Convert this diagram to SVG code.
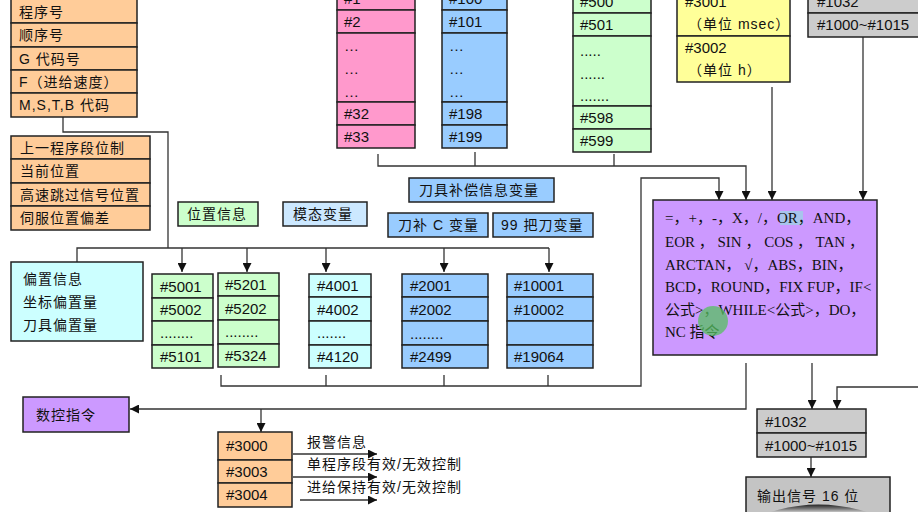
<svg xmlns="http://www.w3.org/2000/svg" width="918" height="512" viewBox="0 0 918 512">
<defs>
<style>
.b{stroke:#222;stroke-width:1.5}
.or{fill:#FFCC99}.pk{fill:#FF99CC}.bl{fill:#99CCFF}.gn{fill:#CCFFCC}.cy{fill:#CCFFFF}.ye{fill:#FFFF99}.pu{fill:#CC99FF}.gy{fill:#CCCCCC}.lb{fill:#CCE8FF}
.t{font-family:"Liberation Sans","Noto Sans CJK SC",sans-serif;font-size:15px;fill:#111}
.c{font-family:"Liberation Sans","Noto Sans CJK SC",sans-serif;font-size:14px;fill:#111;letter-spacing:1px}
.s{font-family:"Liberation Serif","Noto Sans CJK SC",serif;font-size:15px;fill:#111}
.ln{stroke:#333;stroke-width:1.3;fill:none}
</style>
<marker id="ah" viewBox="0 0 10 10" refX="10" refY="5" markerWidth="9" markerHeight="9" markerUnits="userSpaceOnUse" orient="auto"><path d="M0,0 L10,5 L0,10 Z" fill="#111"/></marker>
<linearGradient id="dish" x1="0" y1="0" x2="0" y2="1"><stop offset="0" stop-color="#222"/><stop offset="0.5" stop-color="#777"/><stop offset="1" stop-color="#ddd"/></linearGradient>
</defs>

<g id="connectors">
<path class="ln" d="M63,117 V132 H168 V248"/>
<path class="ln" d="M77,262 V248 H549"/>
<path class="ln" d="M182,248 V272" marker-end="url(#ah)"/>
<path class="ln" d="M247,248 V272" marker-end="url(#ah)"/>
<path class="ln" d="M326,248 V272" marker-end="url(#ah)"/>
<path class="ln" d="M444,248 V272" marker-end="url(#ah)"/>
<path class="ln" d="M549,248 V272" marker-end="url(#ah)"/>
<path class="ln" d="M221,375 V386 H641 V178 H719 V200" marker-end="url(#ah)"/>
<path class="ln" d="M326,375 V386 M444,375 V386 M548,375 V386"/>
<path class="ln" d="M378,154 V166 H746 V200" marker-end="url(#ah)"/>
<path class="ln" d="M475,152 V166 M614,154 V166"/>
<path class="ln" d="M772,87 V200" marker-end="url(#ah)"/>
<path class="ln" d="M863,37 V200" marker-end="url(#ah)"/>
<path class="ln" d="M746,363 V409 H130" marker-end="url(#ah)"/>
<path class="ln" d="M261,409 V432" marker-end="url(#ah)"/>
<path class="ln" d="M812,363 V409" marker-end="url(#ah)"/>
<path class="ln" d="M918,387 H837 V409" marker-end="url(#ah)"/>
<path class="ln" d="M811,457 V477" marker-end="url(#ah)"/>
<path class="ln" d="M293,454 H377" marker-end="url(#ah)"/>
<path class="ln" d="M293,477 H377" marker-end="url(#ah)"/>
<path class="ln" d="M300,500 H377" marker-end="url(#ah)"/>
</g>

<g id="program-info">
<rect class="or b" x="11" y="-1" width="126" height="24"/>
<rect class="or b" x="11" y="23" width="126" height="24"/>
<rect class="or b" x="11" y="47" width="126" height="23"/>
<rect class="or b" x="11" y="70" width="126" height="23"/>
<rect class="or b" x="11" y="93" width="126" height="24"/>
<text class="c" x="19" y="17">程序号</text>
<text class="c" x="19" y="40">顺序号</text>
<text class="c" x="19" y="64">G 代码号</text>
<text class="c" x="19" y="87">F（进给速度）</text>
<text class="c" x="19" y="110" letter-spacing="0">M,S,T,B 代码</text>
</g>

<g id="position-list">
<rect class="or b" x="11" y="136" width="139" height="23"/>
<rect class="or b" x="11" y="159" width="139" height="24"/>
<rect class="or b" x="11" y="183" width="139" height="23"/>
<rect class="or b" x="11" y="206" width="139" height="24"/>
<text class="c" x="20" y="153">上一程序段位制</text>
<text class="c" x="20" y="176">当前位置</text>
<text class="c" x="20" y="200">高速跳过信号位置</text>
<text class="c" x="20" y="223">伺服位置偏差</text>
</g>

<g id="local-vars">
<rect class="pk b" x="337" y="-14" width="78" height="24"/>
<rect class="pk b" x="337" y="10" width="78" height="23"/>
<rect class="pk b" x="337" y="33" width="78" height="69"/>
<rect class="pk b" x="337" y="102" width="78" height="23"/>
<rect class="pk b" x="337" y="125" width="78" height="23"/>
<text class="t" x="344" y="4">#1</text>
<text class="t" x="344" y="27">#2</text>
<text class="t" x="344" y="51">…</text>
<text class="t" x="344" y="74">…</text>
<text class="t" x="344" y="97">…</text>
<text class="t" x="344" y="119">#32</text>
<text class="t" x="344" y="142">#33</text>
</g>

<g id="common-vars-100">
<rect class="bl b" x="442" y="-14" width="65" height="24"/>
<rect class="bl b" x="442" y="10" width="65" height="23"/>
<rect class="bl b" x="442" y="33" width="65" height="69"/>
<rect class="bl b" x="442" y="102" width="65" height="23"/>
<rect class="bl b" x="442" y="125" width="65" height="23"/>
<text class="t" x="449" y="4">#100</text>
<text class="t" x="449" y="27">#101</text>
<text class="t" x="449" y="51">…</text>
<text class="t" x="449" y="74">…</text>
<text class="t" x="449" y="97">…</text>
<text class="t" x="449" y="119">#198</text>
<text class="t" x="449" y="142">#199</text>
</g>

<g id="common-vars-500">
<rect class="gn b" x="573" y="-11" width="78" height="24"/>
<rect class="gn b" x="573" y="13" width="78" height="23"/>
<rect class="gn b" x="573" y="36" width="78" height="70"/>
<rect class="gn b" x="573" y="106" width="78" height="23"/>
<rect class="gn b" x="573" y="129" width="78" height="23"/>
<text class="t" x="580" y="7">#500</text>
<text class="t" x="580" y="30">#501</text>
<text class="t" x="580" y="56" font-size="12">.....</text>
<text class="t" x="580" y="79" font-size="12">......</text>
<text class="t" x="580" y="101" font-size="12">.......</text>
<text class="t" x="580" y="123">#598</text>
<text class="t" x="580" y="146">#599</text>
</g>

<g id="clock-vars">
<rect class="ye b" x="677" y="-12" width="113" height="48"/>
<rect class="ye b" x="677" y="36" width="113" height="46"/>
<text class="t" x="685" y="7">#3001</text>
<text class="c" x="688" y="29" letter-spacing="0">（单位 msec）</text>
<text class="t" x="685" y="53">#3002</text>
<text class="c" x="688" y="75" letter-spacing="0">（单位 h）</text>
</g>

<g id="input-signals">
<rect class="gy b" x="808" y="-11" width="112" height="24"/>
<rect class="gy b" x="808" y="13" width="112" height="24"/>
<text class="t" x="817" y="7">#1032</text>
<text class="t" x="817" y="30">#1000~#1015</text>
</g>

<g id="label-position">
<rect class="gn b" x="178" y="202" width="80" height="24"/>
<text class="c" x="187" y="219">位置信息</text>
</g>
<g id="label-modal">
<rect class="lb b" x="283" y="202" width="84" height="24"/>
<text class="c" x="293" y="219">模态变量</text>
</g>
<g id="label-tool-comp">
<rect class="bl b" x="409" y="178" width="145" height="24"/>
<text class="c" x="419" y="195">刀具补偿信息变量</text>
</g>
<g id="label-tool-c">
<rect class="bl b" x="388" y="213" width="100" height="24"/>
<text class="c" x="398" y="230">刀补 C 变量</text>
</g>
<g id="label-99-tools">
<rect class="bl b" x="493" y="213" width="100" height="24"/>
<text class="c" x="501" y="230">99 把刀变量</text>
</g>

<g id="offset-info">
<rect class="cy b" x="11" y="262" width="132" height="79"/>
<text class="c" x="23" y="284">偏置信息</text>
<text class="c" x="23" y="307">坐标偏置量</text>
<text class="c" x="23" y="330">刀具偏置量</text>
</g>

<g id="vars-5001">
<rect class="gn b" x="152" y="274" width="61" height="24"/>
<rect class="gn b" x="152" y="298" width="61" height="23"/>
<rect class="gn b" x="152" y="321" width="61" height="24"/>
<rect class="gn b" x="152" y="345" width="61" height="23"/>
<text class="t" x="160" y="292">#5001</text>
<text class="t" x="160" y="315">#5002</text>
<text class="t" x="160" y="338" font-size="12">........</text>
<text class="t" x="160" y="362">#5101</text>
</g>

<g id="vars-5201">
<rect class="gn b" x="218" y="273" width="61" height="23"/>
<rect class="gn b" x="218" y="296" width="61" height="24"/>
<rect class="gn b" x="218" y="320" width="61" height="24"/>
<rect class="gn b" x="218" y="344" width="61" height="23"/>
<text class="t" x="225" y="290">#5201</text>
<text class="t" x="225" y="314">#5202</text>
<text class="t" x="225" y="337" font-size="12">........</text>
<text class="t" x="225" y="361">#5324</text>
</g>

<g id="vars-4001">
<rect class="cy b" x="309" y="274" width="62" height="23"/>
<rect class="cy b" x="309" y="297" width="62" height="24"/>
<rect class="cy b" x="309" y="321" width="62" height="24"/>
<rect class="cy b" x="309" y="345" width="62" height="23"/>
<text class="t" x="317" y="291">#4001</text>
<text class="t" x="317" y="315">#4002</text>
<text class="t" x="317" y="338" font-size="12">.......</text>
<text class="t" x="317" y="362">#4120</text>
</g>

<g id="vars-2001">
<rect class="bl b" x="402" y="274" width="86" height="23"/>
<rect class="bl b" x="402" y="297" width="86" height="24"/>
<rect class="bl b" x="402" y="321" width="86" height="24"/>
<rect class="bl b" x="402" y="345" width="86" height="23"/>
<text class="t" x="410" y="291">#2001</text>
<text class="t" x="410" y="315">#2002</text>
<text class="t" x="410" y="339" font-size="12">........</text>
<text class="t" x="410" y="362">#2499</text>
</g>

<g id="vars-10001">
<rect class="bl b" x="507" y="274" width="86" height="23"/>
<rect class="bl b" x="507" y="297" width="86" height="24"/>
<rect class="bl b" x="507" y="321" width="86" height="24"/>
<rect class="bl b" x="507" y="345" width="86" height="23"/>
<text class="t" x="514" y="291">#10001</text>
<text class="t" x="514" y="315">#10002</text>
<text class="t" x="514" y="362">#19064</text>
</g>

<g id="operations">
<rect class="pu b" x="653" y="200" width="224" height="155"/>
<rect x="780" y="211" width="23" height="14" fill="#A8C4EC"/>
<text class="s" x="665" y="223">=，+，-，X，/，OR，AND，</text>
<text class="s" x="665" y="247">EOR ， SIN ， COS ， TAN ，</text>
<text class="s" x="665" y="270">ARCTAN， √，ABS，BIN，</text>
<text class="s" x="665" y="292">BCD，ROUND，FIX FUP，IF&lt;</text>
<text class="s" x="665" y="315">公式&gt;，WHILE&lt;公式&gt;，DO，</text>
<text class="s" x="665" y="337">NC 指令</text>
<circle cx="713" cy="321" r="15" fill="#55C060" fill-opacity="0.75"/>
</g>

<g id="nc-command">
<rect class="pu b" x="23" y="397" width="106" height="35"/>
<text class="c" x="36" y="420">数控指令</text>
</g>

<g id="system-vars">
<rect class="or b" x="218" y="432" width="74" height="28"/>
<rect class="or b" x="218" y="460" width="74" height="23"/>
<rect class="or b" x="218" y="483" width="74" height="24"/>
<text class="t" x="226" y="451">#3000</text>
<text class="t" x="226" y="477">#3003</text>
<text class="t" x="226" y="500">#3004</text>
<text class="c" x="307" y="447">报警信息</text>
<text class="c" x="307" y="469">单程序段有效/无效控制</text>
<text class="c" x="307" y="492">进给保持有效/无效控制</text>
</g>

<g id="output-signals">
<rect class="gy b" x="757" y="409" width="109" height="24"/>
<rect class="gy b" x="757" y="433" width="109" height="24"/>
<text class="t" x="765" y="427">#1032</text>
<text class="t" x="765" y="451">#1000~#1015</text>
</g>

<g id="output-16">
<rect x="746" y="477" width="144" height="40" fill="#C4C4C4" stroke="#222" stroke-width="1.5"/>
<path d="M768,513 Q818,496 870,513 Z" fill="url(#dish)"/>
<text class="c" x="757" y="501">输出信号 16 位</text>
</g>
</svg>
